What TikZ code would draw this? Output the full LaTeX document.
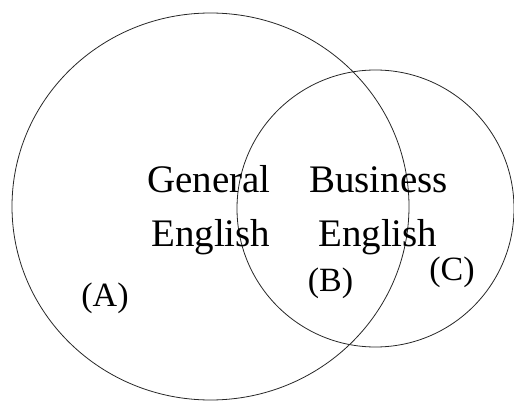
\documentclass[tikz,border=0pt]{standalone}
\usepackage{fontspec}
\setmainfont{Liberation Serif}
\begin{document}
\begin{tikzpicture}[x=1pt,y=-1pt,
  ring/.style={draw=black!85,line width=0.8pt},
  word/.style={inner sep=0pt,anchor=base west,font=\fontsize{39}{41}\selectfont},
  tag/.style={inner sep=0pt,anchor=center,font=\fontsize{34}{36}\selectfont}]
\useasboundingbox (0,0) rectangle (514,401);
\draw[ring] (210.5,206.5) ellipse [x radius=198.5, y radius=193.5];
\draw[ring] (375.5,208.5) circle [radius=138.5];
\node[word] (g1) at (147,193) {General};
\node[word] (g2) at (151,246) {English};
\node[word] (b1) at (309,193) {Business};
\node[word] (b2) at (318,246) {English};
\node[tag] (a) at (105,298) {(A)};
\node[tag] (b) at (330.5,283) {(B)};
\node[tag] (c) at (452,272) {(C)};
\end{tikzpicture}
\end{document}
